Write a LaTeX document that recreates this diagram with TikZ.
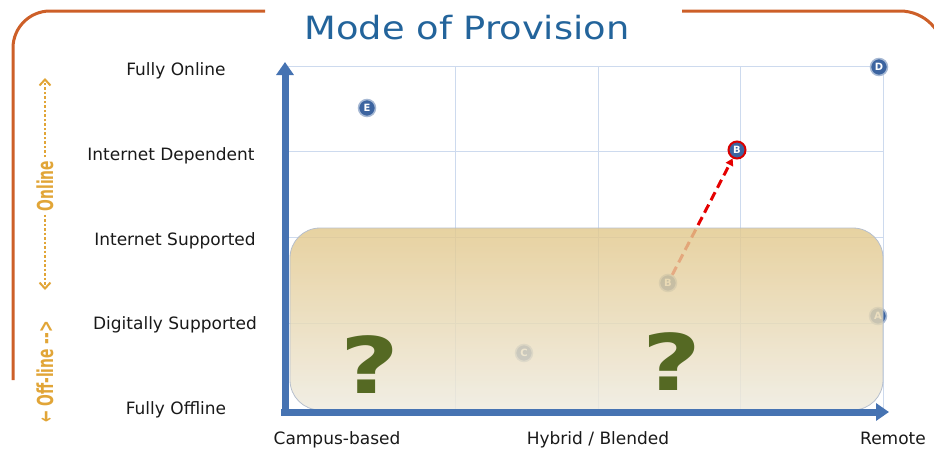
\documentclass[tikz,border=0pt]{standalone}
\usepackage{fontspec}
\setmainfont{DejaVu Sans}
\newfontfamily\condfont{DejaVu Sans Condensed}
\usetikzlibrary{arrows.meta}

\definecolor{frameorange}{RGB}{205,95,40}
\definecolor{titleblue}{RGB}{35,100,155}
\definecolor{axisblue}{RGB}{70,115,178}
\definecolor{gridblue}{RGB}{205,218,238}
\definecolor{goldtext}{RGB}{225,165,55}
\definecolor{qgreen}{RGB}{85,105,35}
\definecolor{dotblue}{RGB}{60,100,160}
\definecolor{boxtop}{RGB}{226,200,140}
\definecolor{boxbot}{RGB}{238,234,222}

\tikzset{
  level/.style={font=\fontsize{17}{19}\selectfont, text=black!90,
    text height=0.75em, text depth=0.22em},
  pt/.style={circle, fill=dotblue, draw=dotblue!45!white, line width=1.5pt,
    minimum size=17pt, inner sep=0pt, text=white, font=\bfseries\fontsize{10}{10}\selectfont},
  axis/.style={axisblue, line width=7pt, -{Triangle[length=13pt,width=17pt]}},
  gridline/.style={gridblue, line width=1pt},
  sidetext/.style={goldtext, rotate=90, font=\condfont\bfseries\fontsize{22}{22}\selectfont},
  sideline/.style={goldtext, line width=2.5pt, dotted, -{Straight Barb[length=6pt,width=11pt,line width=2pt]}},
  quest/.style={qgreen, font=\bfseries\fontsize{78}{78}\selectfont, xscale=1.3}
}

\begin{document}
\begin{tikzpicture}[x=1pt, y=-1pt]
  \useasboundingbox (0,0) rectangle (934,450);

  % frame and title
  \draw[frameorange, line width=3pt, rounded corners=37pt] (265,11) -- (13,11) -- (13,380);
  \draw[frameorange, line width=3pt, rounded corners=44pt] (682,11) -- (944,11) -- (944,100);
  \node[titleblue, font=\fontsize{32}{34}\selectfont] (title) at (467,28) {\scalebox{1.15}[1]{Mode of Provision}};

  % grid
  \foreach \gx in {455,598,740,883}
    \draw[gridline] (\gx,66) -- (\gx,412);
  \foreach \gy in {66,151,237,323}
    \draw[gridline] (283,\gy) -- (883,\gy);

  % level labels
  \node[level] (fon) at (176,73)  {Fully Online};
  \node[level] (idep) at (171,158) {Internet Dependent};
  \node[level] (isup) at (175,243) {Internet Supported};
  \node[level] (dsup) at (175,327) {Digitally Supported};
  \node[level] (foff) at (176,412) {Fully Offline};

  \node[level] (campus) at (337,442) {Campus-based};
  \node[level] (hybrid) at (598,442) {Hybrid / Blended};
  \node[level] (remote) at (893,442) {Remote};

  % side annotation
  \node[sidetext] (online) at (45,186) {\scalebox{0.7}[1]{Online}};
  \coordinate (ontop) at (45,78);
  \coordinate (onbot) at (45,290);
  \draw[sideline] (online.east) -- (ontop);
  \draw[sideline] (online.west) -- (onbot);
  \node[sidetext] (offline) at (45,372) {\scalebox{0.7}[1]{← Off-line -->}};

  % points
  \node[pt] (E) at (367,108) {E};
  \node[pt] (D) at (879,67) {D};
  \node[pt, draw=red!85!black, line width=2pt] (Bnew) at (737,150) {B};
  \node[pt] (Bold) at (668,283) {B};
  \node[pt] (A) at (878,316) {A};
  \node[pt] (C) at (524,353) {C};
  \draw[red!90!black, line width=3pt, dash pattern=on 9pt off 5pt,
    -{Triangle[length=7pt,width=8pt]}] (Bold) -- (Bnew);

  % offline box
  \shade[top color=boxtop, bottom color=boxbot, opacity=0.82, rounded corners=30pt]
    (290,228) rectangle (883,410);
  \draw[gridblue!70!gray, line width=0.8pt, rounded corners=30pt] (290,228) rectangle (883,410);
  \node[quest] (q1) at (370,365) {?};
  \node[quest] (q2) at (672,362) {?};

  % axes
  \coordinate (origin) at (285,416);
  \draw[axis] (origin) -- (285,62);
  \draw[axis] (281,412) -- (889,412);
\end{tikzpicture}
\end{document}
